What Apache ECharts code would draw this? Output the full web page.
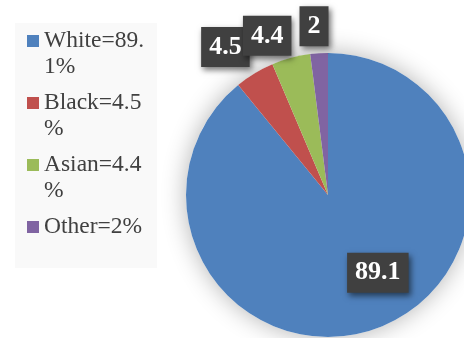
<!DOCTYPE html>
<html>
<head>
<meta charset="utf-8">
<script src="https://cdn.jsdelivr.net/npm/echarts@6/dist/echarts.min.js"></script>
<style>html,body{margin:0;padding:0;background:#fff;}#c{width:464px;height:338px;}</style>
</head>
<body>
<div id="c"></div>
<script>
var categories = ['White', 'Black', 'Asian', 'Other'];
var values = [89.1, 4.5, 4.4, 2];
var colors = ['#4f81bd', '#c0504d', '#9bbb59', '#8064a2'];
var labelPositions = ['inside', 'outside', 'outside', 'outside'];
var labelShift = [[25, 8], [13, -5], [12, 2], [16, -2]];
var legendLines = [2, 2, 2, 1];

var chart = echarts.init(document.getElementById('c'), null, {renderer: 'canvas'});
var pieData = categories.map(function (n, i) {
  return {
    name: n,
    value: values[i],
    itemStyle: {color: colors[i]},
    label: {position: labelPositions[i]}
  };
});
chart.setOption({
  animation: false,
  backgroundColor: '#ffffff',
  graphic: [{
    type: 'rect', left: 15, top: 23, z: -10,
    shape: {width: 142, height: 245},
    style: {fill: '#f9f9f9'}
  }],
  legend: {
    orient: 'vertical',
    left: 27, top: 2,
    padding: 0,
    itemGap: -16,
    itemWidth: 12, itemHeight: 12,
    icon: 'rect',
    data: categories,
    formatter: function (name) {
      var i = categories.indexOf(name);
      var t = name + '=' + values[i] + '%';
      // blank line above so the first text line sits level with the icon
      return '\n' + t + (legendLines[i] === 1 ? '\n ' : '');
    },
    textStyle: {
      fontFamily: 'Liberation Serif', fontSize: 23.5, color: '#404040',
      lineHeight: 26, width: 104, overflow: 'breakAll'
    }
  },
  series: [{
    type: 'pie',
    silent: true,
    center: [328, 195],
    radius: 142,
    z: 1,
    data: [{value: 1, name: '_bg', itemStyle: {color: '#ffffff', shadowBlur: 24, shadowColor: 'rgba(0,0,0,0.3)'}}],
    label: {show: false},
    labelLine: {show: false},
    tooltip: {show: false}
  }, {
    type: 'pie',
    z: 2,
    center: [328, 195],
    radius: 142,
    startAngle: 90,
    clockwise: true,
    avoidLabelOverlap: false,
    data: pieData,
    label: {
      show: true,
      formatter: '{c}',
      fontFamily: 'Liberation Serif', fontWeight: 'bold', fontSize: 26,
      color: '#ffffff',
      backgroundColor: '#404040',
      padding: [7, 8, 6, 8],
      lineHeight: 27,
      shadowColor: 'rgba(0,0,0,0.55)', shadowBlur: 6, shadowOffsetX: 2, shadowOffsetY: 3
    },
    labelLine: {show: false, length: 25, length2: 0},
    labelLayout: function (p) {
      var s = labelShift[p.dataIndex];
      return {dx: s[0], dy: s[1]};
    }
  }]
});
</script>
</body>
</html>
